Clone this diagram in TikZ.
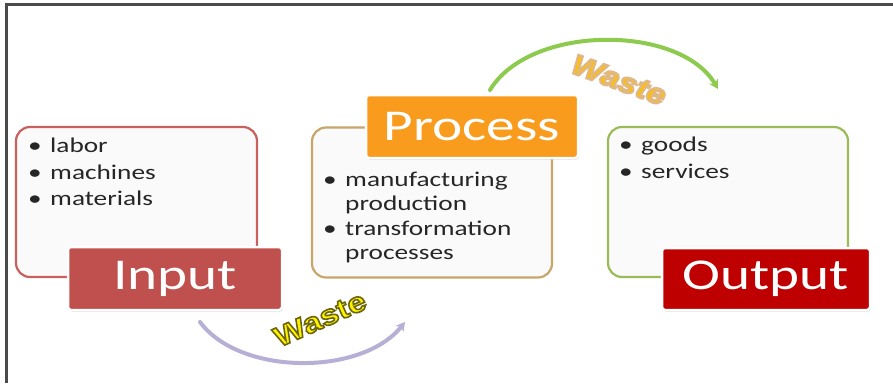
\documentclass[tikz,border=0pt]{standalone}
\usepackage{fontspec}
\usetikzlibrary{shadows,arrows.meta}
\newfontfamily\bodyfont[FakeStretch=1.3]{Carlito}
\newfontfamily\wastefont[FakeStretch=1.2]{Liberation Sans}
\definecolor{inred}{HTML}{C0504D}
\definecolor{inborder}{HTML}{C8605E}
\definecolor{procorange}{HTML}{F99B1C}
\definecolor{procborder}{HTML}{C8A66A}
\definecolor{outred}{HTML}{BF0000}
\definecolor{outborder}{HTML}{9BBB59}
\definecolor{boxfill}{HTML}{FAFAFA}
\definecolor{lavender}{HTML}{B7AFD6}
\definecolor{arcgreen}{HTML}{8CCB4E}
\definecolor{wasteyellow}{HTML}{FFF200}
\definecolor{wasteorange}{HTML}{FFC000}
\definecolor{frame}{HTML}{4A4A4A}
% outlined text: fill + stroke render mode
\newcommand{\strokedtext}[2]{\special{pdf:literal q 2 Tr #1}#2\special{pdf:literal Q}}
\tikzset{
  listbox/.style={draw, line width=2.2pt, fill=boxfill, rounded corners=14pt, minimum width=#1, minimum height=150pt, inner sep=0pt},
  label/.style={draw=white, line width=2.5pt, rounded corners=3pt, text=white, font=\bodyfont\fontsize{44}{44}\selectfont, inner sep=0pt,
     drop shadow={opacity=0.35, shadow xshift=1pt, shadow yshift=-1.5pt}},
  item/.style={anchor=base west, inner sep=0pt, font=\bodyfont\fontsize{21}{21}\selectfont, text=black!85},
  arc/.style={line width=4pt, line cap=round, -{Stealth[length=9pt,width=10pt]}},
  waste/.style={inner sep=0pt, font=\wastefont\bfseries\fontsize{28}{28}\selectfont},
}
\begin{document}
\begin{tikzpicture}[x=1pt,y=-1pt]
\useasboundingbox (0,0) rectangle (893,383);
\fill[white] (0,0) rectangle (893,383);
\draw[frame, line width=3pt] (6,383) -- (6,4) -- (893,4);

% boxes
\node[listbox=241pt, draw=inborder] (inbox) at (136.5,202) {};
\node[listbox=240pt, draw=procborder] (procbox) at (432,202.5) {};
\node[listbox=240pt, draw=outborder] (outbox) at (728,202) {};

% labels
\node[label, fill=inred, minimum width=214pt, minimum height=63pt] (inlab) at (175,278.5) {Input};
\node[label, fill=procorange, minimum width=212pt, minimum height=63pt] (proclab) at (472,126.5) {Process};
\node[label, fill=outred, minimum width=208pt, minimum height=62pt] (outlab) at (766,279) {Output};

% input list
\foreach \t/\y [count=\i] in {labor/152, machines/179, materials/205}{
  \node[item] (inb\i) at (28,\y) {•};
  \node[item] (int\i) at (50,\y) {\t};
}
% process list
\node[item] (pb1) at (323,186) {•};
\node[item] (pt1) at (345,186) {manufacturing};
\node[item] (pt2) at (345,210) {production};
\node[item] (pb2) at (323,235) {•};
\node[item] (pt3) at (345,235) {transformation};
\node[item] (pt4) at (345,259) {processes};
% output list
\node[item] (ob1) at (619,151) {•};
\node[item] (ot1) at (641,151) {goods};
\node[item] (ob2) at (619,178) {•};
\node[item] (ot2) at (641,178) {services};

% arcs
\coordinate (a1s) at (200,322);
\coordinate (a1e) at (405,322);
\coordinate (a2s) at (490,90);
\coordinate (a2e) at (718,89);
\draw[arc, lavender] (a1s) .. controls (240,376) and (362,376) .. (a1e);
\draw[arc, arcgreen] (a2s) .. controls (530,24) and (680,24) .. (a2e);

% waste labels
\node[waste, rotate=24, text=wasteyellow] (w1) at (320,319)
  {\strokedtext{1.6 w 0.42 0.40 0.05 RG}{Waste}};
\node[waste, rotate=-20, text=wasteorange, font=\wastefont\bfseries\itshape\fontsize{28}{28}\selectfont] (w2) at (619,80)
  {\strokedtext{2.2 w 0.88 0.72 0.52 RG}{Waste}};
\end{tikzpicture}
\end{document}
